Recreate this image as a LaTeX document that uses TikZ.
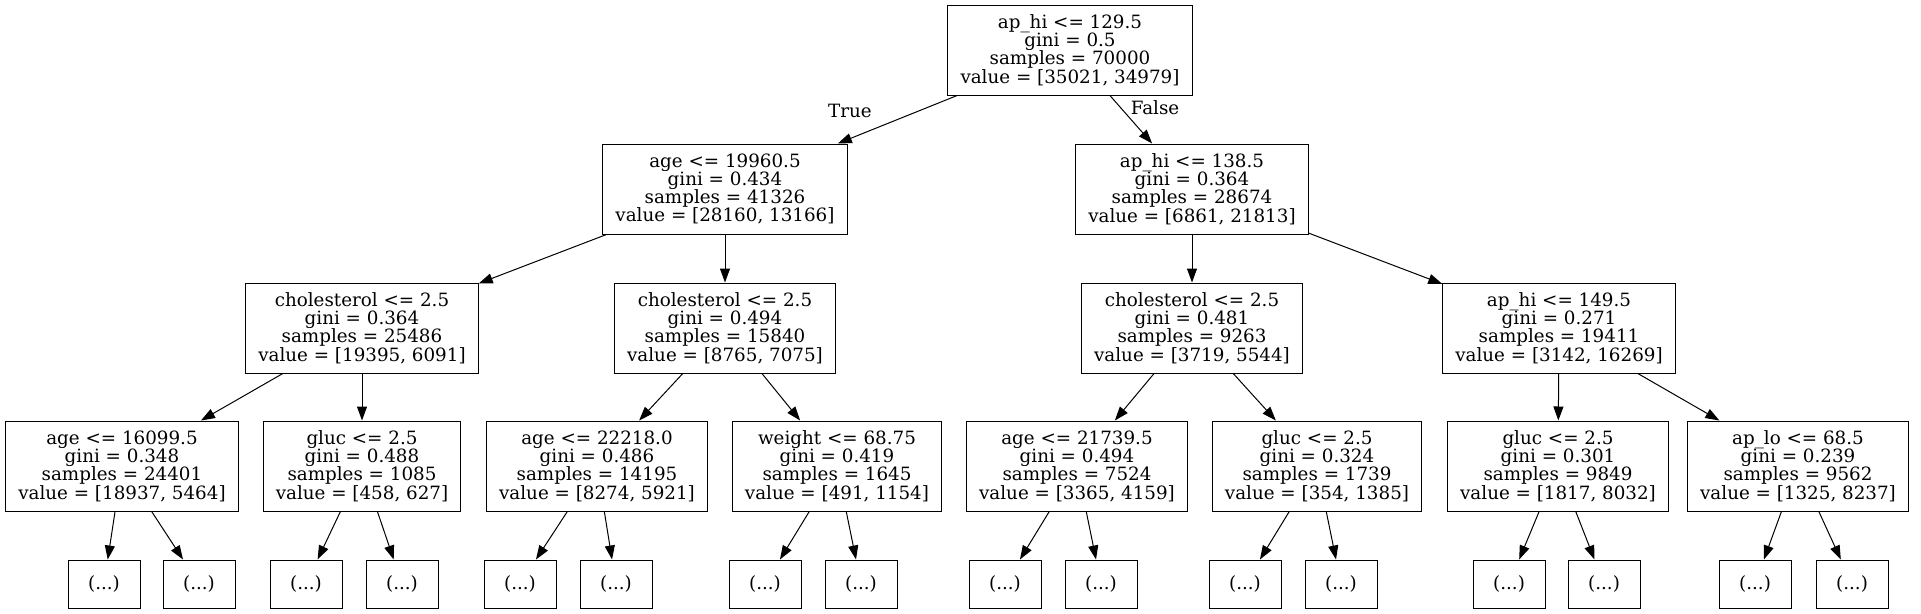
\documentclass[tikz,border=0pt]{standalone}
\usepackage{fontspec}
\setmainfont{DejaVu Serif}
\usetikzlibrary{arrows.meta}

\begin{document}
\begin{tikzpicture}[x=1pt,y=-1pt,->,>={Triangle[length=14pt,width=10pt]},line width=1pt]
  \tikzstyle{every node}=[font=\fontsize{18.3}{18.3}\selectfont]
  \tikzstyle{split}=[draw,rectangle,align=center,inner xsep=12.5pt,minimum height=90pt]
  \tikzstyle{leaf}=[draw,rectangle,minimum width=72pt,minimum height=48pt]
  \useasboundingbox (0,0) rectangle (1921,613);

  % root and first split
  \node[split] (A) at (1070,50) {ap\_hi <= 129.5\\gini = 0.5\\samples = 70000\\value = [35021, 34979]};
  \node[split] (B) at (725,189) {age <= 19960.5\\gini = 0.434\\samples = 41326\\value = [28160, 13166]};
  \node[split] (C) at (1192,189) {ap\_hi <= 138.5\\gini = 0.364\\samples = 28674\\value = [6861, 21813]};
  \node (T) at (850,111) {True};
  \node (Fl) at (1155,108) {False};

  % depth 2
  \node[split] (D) at (362,328) {cholesterol <= 2.5\\gini = 0.364\\samples = 25486\\value = [19395, 6091]};
  \node[split] (E) at (725,328) {cholesterol <= 2.5\\gini = 0.494\\samples = 15840\\value = [8765, 7075]};
  \node[split] (F) at (1192,328) {cholesterol <= 2.5\\gini = 0.481\\samples = 9263\\value = [3719, 5544]};
  \node[split] (G) at (1559,328) {ap\_hi <= 149.5\\gini = 0.271\\samples = 19411\\value = [3142, 16269]};

  % depth 3
  \node[split] (H) at (122,466) {age <= 16099.5\\gini = 0.348\\samples = 24401\\value = [18937, 5464]};
  \node[split] (I) at (362,466) {gluc <= 2.5\\gini = 0.488\\samples = 1085\\value = [458, 627]};
  \node[split] (J) at (597,466) {age <= 22218.0\\gini = 0.486\\samples = 14195\\value = [8274, 5921]};
  \node[split] (K) at (837,466) {weight <= 68.75\\gini = 0.419\\samples = 1645\\value = [491, 1154]};
  \node[split] (L) at (1077,466) {age <= 21739.5\\gini = 0.494\\samples = 7524\\value = [3365, 4159]};
  \node[split] (M) at (1317,466) {gluc <= 2.5\\gini = 0.324\\samples = 1739\\value = [354, 1385]};
  \node[split] (N) at (1558,466) {gluc <= 2.5\\gini = 0.301\\samples = 9849\\value = [1817, 8032]};
  \node[split] (O) at (1798,466) {ap\_lo <= 68.5\\gini = 0.239\\samples = 9562\\value = [1325, 8237]};

  % truncated leaves
  \node[leaf] (H1) at (104,584) {(...)};
  \node[leaf] (H2) at (199,584) {(...)};
  \node[leaf] (I1) at (306,584) {(...)};
  \node[leaf] (I2) at (402,584) {(...)};
  \node[leaf] (J1) at (520,584) {(...)};
  \node[leaf] (J2) at (616,584) {(...)};
  \node[leaf] (K1) at (765,584) {(...)};
  \node[leaf] (K2) at (861,584) {(...)};
  \node[leaf] (L1) at (1005,584) {(...)};
  \node[leaf] (L2) at (1101,584) {(...)};
  \node[leaf] (M1) at (1245,584) {(...)};
  \node[leaf] (M2) at (1341,584) {(...)};
  \node[leaf] (N1) at (1509,584) {(...)};
  \node[leaf] (N2) at (1604,584) {(...)};
  \node[leaf] (O1) at (1755,584) {(...)};
  \node[leaf] (O2) at (1852,584) {(...)};

  \path (A) edge (B)
	(A) edge (C)
	(B) edge (D)
	(B) edge (E)
	(C) edge (F)
	(C) edge (G)
	(D) edge (H)
	(D) edge (I)
	(E) edge (J)
	(E) edge (K)
	(F) edge (L)
	(F) edge (M)
	(G) edge (N)
	(G) edge (O)
	(H) edge (H1) (H) edge (H2)
	(I) edge (I1) (I) edge (I2)
	(J) edge (J1) (J) edge (J2)
	(K) edge (K1) (K) edge (K2)
	(L) edge (L1) (L) edge (L2)
	(M) edge (M1) (M) edge (M2)
	(N) edge (N1) (N) edge (N2)
	(O) edge (O1) (O) edge (O2);
\end{tikzpicture}
\end{document}
